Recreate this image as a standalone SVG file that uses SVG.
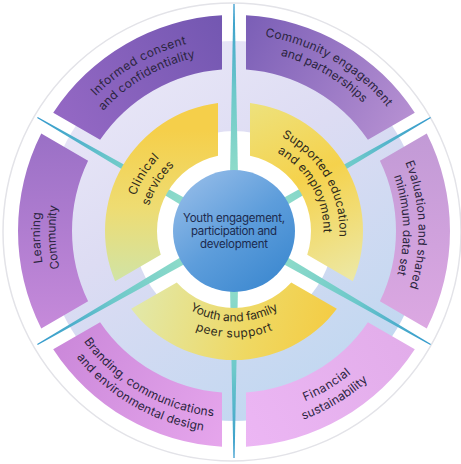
<svg xmlns="http://www.w3.org/2000/svg" xmlns:xlink="http://www.w3.org/1999/xlink" width="461" height="464" viewBox="0 0 461 464">
<style>
.pt{font-family:Inter,"Open Sans","Liberation Sans",sans-serif;font-size:12px;fill:#2b2540}
.yt{font-family:Inter,"Open Sans","Liberation Sans",sans-serif;font-size:12px;fill:#2f2a1c}
.ct{font-family:Inter,"Open Sans","Liberation Sans",sans-serif;font-size:11.5px;fill:#1c2a4e;text-anchor:middle}
.spoke{fill:url(#gSpoke)}
</style>
<defs>
<linearGradient id="gSpoke" gradientUnits="userSpaceOnUse" x1="55" y1="0" x2="227" y2="0">
<stop offset="0" stop-color="#8fdcc9"/><stop offset="0.5" stop-color="#6cc8ca"/><stop offset="1" stop-color="#3399cc"/>
</linearGradient>
<linearGradient id="gRing" gradientUnits="userSpaceOnUse" x1="110" y1="40" x2="350" y2="420">
<stop offset="0" stop-color="#ebe9f8"/><stop offset="0.4" stop-color="#dddcf3"/><stop offset="1" stop-color="#bcd7f0"/>
</linearGradient>
<linearGradient id="gBlue" gradientUnits="userSpaceOnUse" x1="190" y1="175" x2="280" y2="290">
<stop offset="0" stop-color="#93bbe8"/><stop offset="0.5" stop-color="#5d9ddb"/><stop offset="1" stop-color="#3a87cf"/>
</linearGradient>
<linearGradient id="gCS" gradientUnits="userSpaceOnUse" x1="150" y1="130" x2="150" y2="285">
<stop offset="0" stop-color="#f5cf4a"/><stop offset="0.5" stop-color="#eedc72"/><stop offset="1" stop-color="#cfe4a8"/>
</linearGradient>
<linearGradient id="gSE" gradientUnits="userSpaceOnUse" x1="250" y1="100" x2="340" y2="290">
<stop offset="0" stop-color="#ede27e"/><stop offset="0.45" stop-color="#f5d24c"/><stop offset="1" stop-color="#ece9a8"/>
</linearGradient>
<linearGradient id="gYF" gradientUnits="userSpaceOnUse" x1="140" y1="290" x2="330" y2="340">
<stop offset="0" stop-color="#e2e8a8"/><stop offset="0.6" stop-color="#efd862"/><stop offset="1" stop-color="#f4cc44"/>
</linearGradient>
<linearGradient id="gIC" gradientUnits="userSpaceOnUse" x1="60" y1="120" x2="222" y2="15">
<stop offset="0" stop-color="#9468c4"/><stop offset="1" stop-color="#7357b1"/>
</linearGradient>
<linearGradient id="gCE" gradientUnits="userSpaceOnUse" x1="246" y1="15" x2="415" y2="113">
<stop offset="0" stop-color="#7a5eb6"/><stop offset="1" stop-color="#b690d2"/>
</linearGradient>
<linearGradient id="gEV" gradientUnits="userSpaceOnUse" x1="427" y1="134" x2="427" y2="328">
<stop offset="0" stop-color="#c29ad6"/><stop offset="1" stop-color="#dca8e2"/>
</linearGradient>
<linearGradient id="gFI" gradientUnits="userSpaceOnUse" x1="415" y1="349" x2="246" y2="447">
<stop offset="0" stop-color="#e2adea"/><stop offset="1" stop-color="#ecb6f4"/>
</linearGradient>
<linearGradient id="gBR" gradientUnits="userSpaceOnUse" x1="222" y1="447" x2="53" y2="349">
<stop offset="0" stop-color="#e6a6ec"/><stop offset="1" stop-color="#cb88da"/>
</linearGradient>
<linearGradient id="gLC" gradientUnits="userSpaceOnUse" x1="41" y1="329" x2="41" y2="134">
<stop offset="0" stop-color="#c68ada"/><stop offset="1" stop-color="#9a70c6"/>
</linearGradient>
<path id="tp-ic1" d="M41,231 A193,193 0 0 1 330.5,63.86"/>
<path id="tp-ic2" d="M56.5,231 A177.5,177.5 0 0 1 322.75,77.28"/>
<path id="tp-ce1" d="M135.5,60.4 A197,197 0 0 1 431,231"/>
<path id="tp-ce2" d="M143.25,73.82 A181.5,181.5 0 0 1 415.5,231"/>
<path id="tp-ev1" d="M320.62,68.11 A184.5,184.5 0 0 1 331.77,387.46"/>
<path id="tp-ev2" d="M313.35,81.79 A169,169 0 0 1 323.55,374.31"/>
<path id="tp-fi1" d="M144.55,392.36 A184.5,184.5 0 0 0 418.47,227.78"/>
<path id="tp-fi2" d="M136.55,406.79 A201,201 0 0 0 434.97,227.49"/>
<path id="tp-br1" d="M47.5,231 A186.5,186.5 0 0 0 327.25,392.51"/>
<path id="tp-br2" d="M32,231 A202,202 0 0 0 335,405.94"/>
<path id="tp-lc1" d="M142.92,402.28 A194,194 0 0 1 131.2,66.49"/>
<path id="tp-lc2" d="M150.19,388.6 A178.5,178.5 0 0 1 139.41,79.63"/>
<path id="tp-cs1" d="M141.74,280.06 A104.5,104.5 0 0 1 237.65,126.56"/>
<path id="tp-cs2" d="M155.86,272.55 A88.5,88.5 0 0 1 237.09,142.55"/>
<path id="tp-se1" d="M234,125.5 A105.5,105.5 0 0 1 325.36,283.75"/>
<path id="tp-se2" d="M234,141.5 A89.5,89.5 0 0 1 311.51,275.75"/>
<path id="tp-yf1" d="M155.63,276.25 A90.5,90.5 0 0 0 312.37,276.25"/>
<path id="tp-yf2" d="M141.77,284.25 A106.5,106.5 0 0 0 326.23,284.25"/>
</defs>

<g id="background">
<circle cx="232" cy="232" r="229" fill="#ffffff" stroke="#e3e3e8" stroke-width="1.5"/>
<circle cx="234" cy="231" r="190" fill="url(#gRing)"/>
<circle cx="234" cy="231" r="100" fill="#ffffff"/>
</g>

<g id="connectors">
<polygon class="spoke" points="55,-4 227,-0.6 227,0.6 55,4" transform="translate(234,231) rotate(-90)"/>
<polygon class="spoke" points="55,-4 227,-0.6 227,0.6 55,4" transform="translate(234,231) rotate(-30)"/>
<polygon class="spoke" points="55,-4 227,-0.6 227,0.6 55,4" transform="translate(234,231) rotate(30)"/>
<polygon class="spoke" points="55,-4 227,-0.6 227,0.6 55,4" transform="translate(234,231) rotate(90)"/>
<polygon class="spoke" points="55,-4 227,-0.6 227,0.6 55,4" transform="translate(234,231) rotate(150)"/>
<polygon class="spoke" points="55,-4 227,-0.6 227,0.6 55,4" transform="translate(234,231) rotate(210)"/>
</g>

<g id="clinical-services">
<path d="M115.14,281.16 A129,129 0 0 1 218,103 L218,155.68 A77,77 0 0 0 160.77,254.81 Z" fill="url(#gCS)"/>
<text class="yt" text-anchor="middle"><textPath href="#tp-cs1" xlink:href="#tp-cs1" startOffset="50%" textLength="45" lengthAdjust="spacing">Clinical</textPath></text>
<text class="yt" text-anchor="middle"><textPath href="#tp-cs2" xlink:href="#tp-cs2" startOffset="50%" textLength="48" lengthAdjust="spacing">services</textPath></text>
</g>

<g id="supported-education">
<path d="M250,103 A129,129 0 0 1 352.86,281.16 L307.23,254.81 A77,77 0 0 0 250,155.68 Z" fill="url(#gSE)"/>
<text class="yt" text-anchor="middle"><textPath href="#tp-se1" xlink:href="#tp-se1" startOffset="50%" textLength="122" lengthAdjust="spacing">Supported education</textPath></text>
<text class="yt" text-anchor="middle"><textPath href="#tp-se2" xlink:href="#tp-se2" startOffset="50%" textLength="97" lengthAdjust="spacing">and employment</textPath></text>
</g>

<g id="youth-family-peer-support">
<path d="M336.85,308.85 A129,129 0 0 1 131.15,308.85 L176.77,282.52 A77,77 0 0 0 291.23,282.52 Z" fill="url(#gYF)"/>
<text class="yt" text-anchor="middle"><textPath href="#tp-yf1" xlink:href="#tp-yf1" startOffset="50%" textLength="93" lengthAdjust="spacing">Youth and family</textPath></text>
<text class="yt" text-anchor="middle"><textPath href="#tp-yf2" xlink:href="#tp-yf2" startOffset="50%" textLength="79" lengthAdjust="spacing">peer support</textPath></text>
</g>

<g id="informed-consent">
<path d="M53.23,112.78 A216,216 0 0 1 222.02,15.32 L222,69.44 A162,162 0 0 0 100.09,139.83 Z" fill="url(#gIC)"/>
<text class="pt" text-anchor="middle"><textPath href="#tp-ic1" xlink:href="#tp-ic1" startOffset="50%" textLength="106" lengthAdjust="spacing">Informed consent</textPath></text>
<text class="pt" text-anchor="middle"><textPath href="#tp-ic2" xlink:href="#tp-ic2" startOffset="50%" textLength="108" lengthAdjust="spacing">and confidentiality</textPath></text>
</g>

<g id="community-engagement">
<path d="M245.98,15.32 A216,216 0 0 1 414.79,112.8 L367.91,139.83 A162,162 0 0 0 246,69.44 Z" fill="url(#gCE)"/>
<text class="pt" text-anchor="middle"><textPath href="#tp-ce1" xlink:href="#tp-ce1" startOffset="50%" textLength="144" lengthAdjust="spacing">Community engagement</textPath></text>
<text class="pt" text-anchor="middle"><textPath href="#tp-ce2" xlink:href="#tp-ce2" startOffset="50%" textLength="96" lengthAdjust="spacing">and partnerships</textPath></text>
</g>

<g id="evaluation">
<path d="M426.76,133.54 A216,216 0 0 1 426.76,328.46 L379.91,301.37 A162,162 0 0 0 379.91,160.63 Z" fill="url(#gEV)"/>
<text class="pt" text-anchor="middle"><textPath href="#tp-ev1" xlink:href="#tp-ev1" startOffset="50%" textLength="128" lengthAdjust="spacing">Evaluation and shared</textPath></text>
<text class="pt" text-anchor="middle"><textPath href="#tp-ev2" xlink:href="#tp-ev2" startOffset="50%" textLength="100" lengthAdjust="spacing">minimum data set</textPath></text>
</g>

<g id="financial-sustainability">
<path d="M414.79,349.2 A216,216 0 0 1 245.98,446.68 L246,392.56 A162,162 0 0 0 367.91,322.17 Z" fill="url(#gFI)"/>
<text class="pt" text-anchor="middle"><textPath href="#tp-fi1" xlink:href="#tp-fi1" startOffset="50%" textLength="54" lengthAdjust="spacing">Financial</textPath></text>
<text class="pt" text-anchor="middle"><textPath href="#tp-fi2" xlink:href="#tp-fi2" startOffset="50%" textLength="76" lengthAdjust="spacing">sustainability</textPath></text>
</g>

<g id="branding">
<path d="M222.02,446.68 A216,216 0 0 1 53.21,349.2 L100.09,322.17 A162,162 0 0 0 222,392.56 Z" fill="url(#gBR)"/>
<text class="pt" text-anchor="middle"><textPath href="#tp-br1" xlink:href="#tp-br1" startOffset="50%" textLength="154" lengthAdjust="spacing">Branding, communications</textPath></text>
<text class="pt" text-anchor="middle"><textPath href="#tp-br2" xlink:href="#tp-br2" startOffset="50%" textLength="150" lengthAdjust="spacing">and environmental design</textPath></text>
</g>

<g id="learning-community">
<path d="M41.24,328.46 A216,216 0 0 1 41.24,133.54 L88.09,160.63 A162,162 0 0 0 88.09,301.37 Z" fill="url(#gLC)"/>
<text class="pt" text-anchor="middle"><textPath href="#tp-lc1" xlink:href="#tp-lc1" startOffset="50%" textLength="50" lengthAdjust="spacing">Learning</textPath></text>
<text class="pt" text-anchor="middle"><textPath href="#tp-lc2" xlink:href="#tp-lc2" startOffset="50%" textLength="63" lengthAdjust="spacing">Community</textPath></text>
</g>

<g id="youth-engagement">
<circle cx="234" cy="231" r="61" fill="url(#gBlue)"/>
<text class="ct" x="234" y="222" textLength="102" lengthAdjust="spacing">Youth engagement,</text>
<text class="ct" x="234" y="235" textLength="86" lengthAdjust="spacing">participation and</text>
<text class="ct" x="234" y="248" textLength="68" lengthAdjust="spacing">development</text>
</g>
</svg>
